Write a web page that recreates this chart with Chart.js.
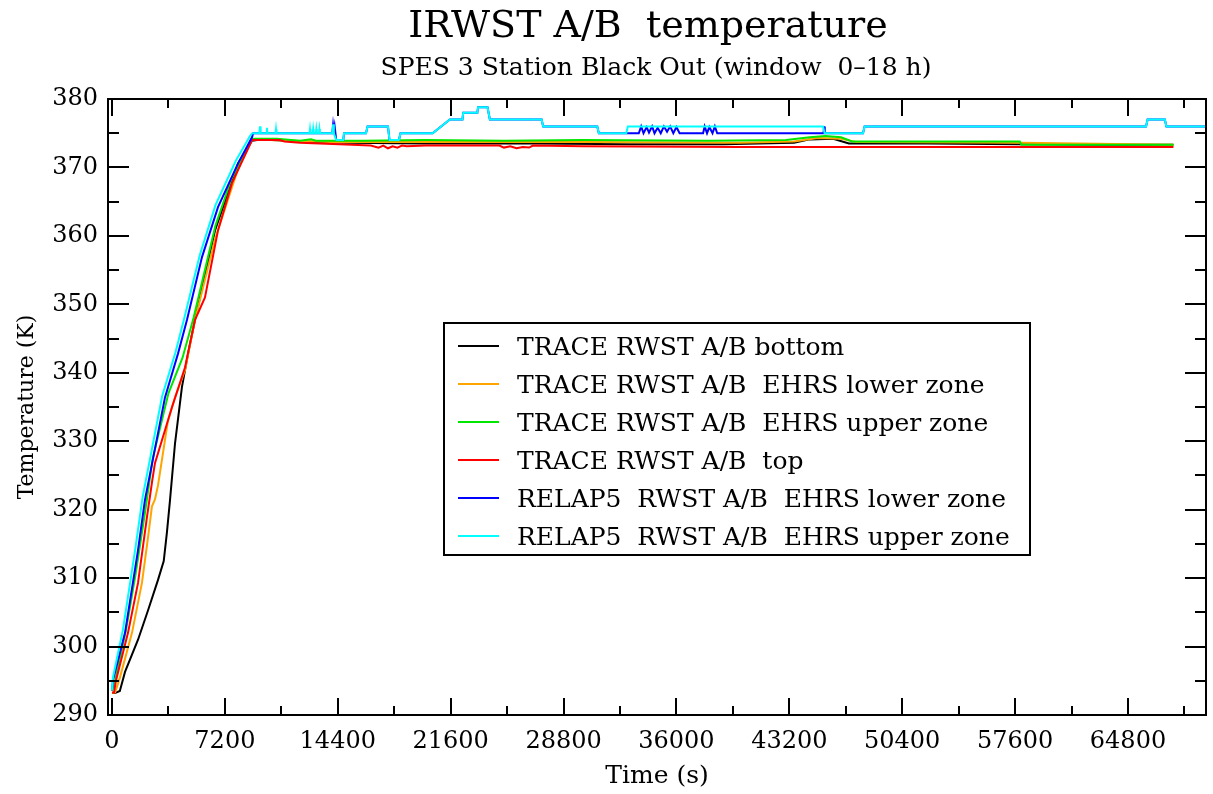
<!DOCTYPE html>
<html>
<head>
<meta charset="utf-8">
<title>IRWST A/B temperature</title>
<script src="https://cdn.jsdelivr.net/npm/chart.js@4.4.1/dist/chart.umd.min.js"></script>
<style>
  html, body { margin: 0; padding: 0; background: #fff; }
  #wrap { width: 1213px; height: 794px; position: relative; }
</style>
</head>
<body>
<div id="wrap"><canvas id="chart"></canvas></div>
<script>
// axis ticks
const xTicks = [0, 7200, 14400, 21600, 28800, 36000, 43200, 50400, 57600, 64800];
const xMinor = [3600, 10800, 18000, 25200, 32400, 39600, 46800, 54000, 61200, 68400];
const yTicks = [290, 300, 310, 320, 330, 340, 350, 360, 370, 380];
const yMinor = [295, 305, 315, 325, 335, 345, 355, 365, 375];

const labels = [
  'TRACE RWST A/B bottom',
  'TRACE RWST A/B  EHRS lower zone',
  'TRACE RWST A/B  EHRS upper zone',
  'TRACE RWST A/B  top',
  'RELAP5  RWST A/B  EHRS lower zone',
  'RELAP5  RWST A/B  EHRS upper zone'
];
const colors = ['#000000', '#ffa500', '#00e600', '#ff0000', '#0000ff', '#00ffff'];

// TRACE bottom
const bottomTime = [0, 190, 500, 830, 1660, 2300, 2930, 3300, 3500, 3700, 4020, 4460,
  4850, 5290, 6570, 8040, 8930, 9600, 12000, 15000, 20000, 27000, 33000, 39000,
  43500, 44500, 46000, 47000, 52000, 58000, 63000, 67700];
const bottomTemp = [293.2, 293.2, 293.5, 296.3, 301.0, 305.3, 309.7, 312.5, 316.6, 321.4, 329.7, 337.9,
  342.8, 347.7, 360.8, 370.6, 373.9, 374.1, 373.8, 373.6, 373.5, 373.5, 373.4, 373.4,
  373.6, 374.1, 374.2, 373.5, 373.5, 373.4, 373.3, 373.3];

// TRACE EHRS lower zone
const lowerTime = [0, 200, 510, 1275, 1910, 2300, 2550, 2740, 2930, 3570, 4020, 4660,
  5290, 6570, 8040, 8930, 10000, 14000, 20000, 30000, 40000, 43500, 45000, 46500,
  47500, 58000, 67700];
const lowerTemp = [293.2, 293.3, 295.5, 302.0, 309.3, 316.0, 320.5, 321.5, 323.5, 333.0, 336.4, 340.4,
  347.7, 359.5, 369.8, 374.0, 374.0, 373.7, 373.7, 373.7, 373.6, 373.8, 374.3, 374.2,
  373.7, 373.6, 373.3];

// TRACE EHRS upper zone
const upperTime = [0, 150, 900, 1500, 2100, 2600, 3600, 4500, 5200, 6600, 7600, 8900,
  10500, 12000, 12700, 13000, 16000, 20000, 25000, 30000, 38000, 43000, 44500, 45500,
  46500, 47200, 57900, 58000, 67700];
const upperTemp = [293.5, 294.5, 302.5, 310.5, 319.5, 327.5, 337.0, 342.2, 348.0, 361.5, 368.2, 374.2,
  374.2, 373.9, 374.1, 373.9, 373.9, 374.0, 373.9, 374.0, 373.9, 374.0, 374.4, 374.6,
  374.4, 373.8, 373.8, 373.3, 373.3];

// TRACE top
const topTime = [0, 130, 250, 1020, 1660, 2230, 2550, 2740, 3830, 4660,
  5290, 5930, 6760, 7650, 8930, 10700, 11000, 12000, 14500, 16500,
  17000, 17300, 17600, 17900, 18200, 18500, 18800, 20000, 24700, 25000,
  25400, 25800, 26200, 26600, 26850, 30000, 40000, 50000, 60000, 67700];
const topTemp = [293.3, 293.3, 295.0, 302.0, 309.3, 318.9, 324.0, 326.8, 335.0, 340.8,
  347.7, 351.0, 360.8, 367.7, 374.0, 374.0, 373.8, 373.6, 373.4, 373.2,
  372.9, 373.2, 372.8, 373.1, 372.9, 373.2, 373.1, 373.2, 373.2, 372.9,
  373.1, 372.8, 373.0, 372.9, 373.2, 373.1, 373.0, 373.0, 373.0, 373.0];

// RELAP5 EHRS lower zone
const relapLowTime = [
  0, 64, 830, 1660, 2100, 3380, 4210, 4780, 5740, 6760, 8040, 8930, 9000,
  14050, 14100, 14150, 14200, 14250, 14300, 14750, 14800, 16200, 16300, 17600, 17700, 18300, 18400,
  20450, 21550, 22350, 22400, 23300, 23350, 23950, 24100, 27400, 27500, 30950, 31050,
  33600, 33750, 33900, 34100, 34250, 34450, 34600, 34800, 35000, 35200, 35400, 35600, 35800, 36000, 36200,
  37700, 37800, 37950, 38100, 38300, 38450, 38600,
  45380, 45420, 45460, 47900, 48000, 65950, 66050, 67150, 67250, 69775];
const relapLowTemp = [
  293.6, 295.1, 302.0, 314.1, 321.4, 336.4, 342.8, 347.7, 356.9, 364.2, 370.6, 374.4, 375.0,
  375.0, 376.2, 375.2, 376.0, 375.0, 374.0, 374.0, 375.0, 375.0, 376.0, 376.0, 374.0, 374.0, 375.0,
  375.0, 377.0, 377.0, 378.0, 378.0, 378.8, 378.8, 377.0, 377.0, 376.0, 376.0, 375.0,
  375.0, 376.0, 375.0, 375.9, 375.1, 376.0, 375.0, 375.8, 375.0, 376.0, 375.2, 376.0, 375.0, 375.9, 375.0,
  375.0, 376.0, 375.0, 375.9, 375.0, 376.0, 375.0,
  375.0, 376.0, 375.0, 375.0, 376.0, 376.0, 377.0, 377.0, 376.0, 376.0];

// RELAP5 EHRS upper zone
const relapUpTime = [
  0, 60, 700, 1500, 1950, 3200, 4050, 4600, 5600, 6600, 7900, 8800, 8950,
  9400, 9440, 9480, 9850, 9880, 9910, 10430, 10460, 10490,
  12600, 12630, 12660, 12800, 12830, 12860, 13000, 13030, 13060, 13200, 13230, 13260,
  14050, 14100, 14150, 14300, 14750, 14800, 16200, 16300, 17600, 17700, 18300, 18400,
  20450, 21550, 22350, 22400, 23300, 23350, 23950, 24100, 27400, 27500, 30950, 31050, 32800, 32900,
  45350, 45450, 47900, 48000, 65950, 66050, 67150, 67250, 69775];
const relapUpTemp = [
  293.6, 295.5, 302.5, 314.5, 321.8, 336.6, 343.0, 347.9, 357.2, 364.5, 371.0, 374.6, 375.0,
  375.0, 376.0, 375.0, 375.0, 375.8, 375.0, 375.0, 375.6, 375.0,
  375.0, 375.6, 375.0, 375.0, 375.6, 375.0, 375.0, 375.6, 375.0, 375.0, 375.6, 375.0,
  375.0, 376.3, 375.0, 374.0, 374.0, 375.0, 375.0, 376.0, 376.0, 374.0, 374.0, 375.0,
  375.0, 377.0, 377.0, 378.0, 378.0, 378.8, 378.8, 377.0, 377.0, 376.0, 376.0, 375.0, 375.0, 376.0,
  376.0, 375.0, 375.0, 376.0, 376.0, 377.0, 377.0, 376.0, 376.0];

const seriesTime = [bottomTime, lowerTime, upperTime, topTime, relapLowTime, relapUpTime];
const seriesTemp = [bottomTemp, lowerTemp, upperTemp, topTemp, relapLowTemp, relapUpTemp];

const FONT = '"DejaVu Serif", "Liberation Serif", serif';

function points(ts, vs) {
  return ts.map((t, i) => ({ x: t, y: vs[i] }));
}

let datasets = [];
for (let i = 0; i < labels.length; ++i) {
  datasets.push({
    label: labels[i],
    data: points(seriesTime[i], seriesTemp[i]),
    borderColor: colors[i],
    backgroundColor: colors[i],
    borderWidth: 2,
    pointRadius: 0,
    tension: 0,
    fill: false,
    order: labels.length - i   // later series drawn on top
  });
}

// titles above the frame
const titlePlugin = {
  id: 'titles',
  afterDraw(chart) {
    const ctx = chart.ctx;
    ctx.save();
    ctx.fillStyle = '#000';
    ctx.textAlign = 'center';
    ctx.textBaseline = 'alphabetic';
    ctx.font = '38px ' + FONT;
    ctx.fillText('IRWST A/B  temperature', 648, 37);
    ctx.font = '25px ' + FONT;
    ctx.fillText('SPES 3 Station Black Out (window  0\u201318 h)', 656, 75);
    ctx.restore();
  }
};

// box frame with inward ticks on all four sides
const framePlugin = {
  id: 'frame',
  afterDatasetsDraw(chart) {
    const ctx = chart.ctx;
    const a = chart.chartArea;
    const xs = chart.scales.x, ys = chart.scales.y;
    ctx.save();
    ctx.strokeStyle = '#000';
    ctx.lineWidth = 2;
    ctx.strokeRect(a.left, a.top, a.right - a.left, a.bottom - a.top);
    ctx.beginPath();
    const xt = (v, len) => {
      const p = Math.round(xs.getPixelForValue(v));
      ctx.moveTo(p, a.bottom); ctx.lineTo(p, a.bottom - len);
      ctx.moveTo(p, a.top); ctx.lineTo(p, a.top + len);
    };
    const yt = (v, len) => {
      const p = Math.round(ys.getPixelForValue(v));
      ctx.moveTo(a.left, p); ctx.lineTo(a.left + len, p);
      ctx.moveTo(a.right, p); ctx.lineTo(a.right - len, p);
    };
    xTicks.forEach(v => xt(v, 17));
    xMinor.forEach(v => xt(v, 9));
    yTicks.forEach(v => yt(v, 21));
    yMinor.forEach(v => yt(v, 11));
    ctx.stroke();
    ctx.restore();
  }
};

// legend box inside the plot
const legendPlugin = {
  id: 'boxLegend',
  afterDraw(chart) {
    const ctx = chart.ctx;
    const bx = 444, by = 323, bw = 586, bh = 232;
    ctx.save();
    ctx.fillStyle = '#fff';
    ctx.fillRect(bx, by, bw, bh);
    ctx.strokeStyle = '#000';
    ctx.lineWidth = 2;
    ctx.strokeRect(bx, by, bw, bh);
    ctx.font = '25px ' + FONT;
    ctx.textBaseline = 'alphabetic';
    ctx.textAlign = 'left';
    chart.data.datasets.forEach((ds, i) => {
      const y = 346 + i * 38;
      ctx.strokeStyle = ds.borderColor;
      ctx.lineWidth = 2;
      ctx.beginPath();
      ctx.moveTo(458, y);
      ctx.lineTo(499, y);
      ctx.stroke();
      ctx.fillStyle = '#000';
      ctx.fillText(ds.label, 517, y + 9);
    });
    ctx.restore();
  }
};

new Chart(document.getElementById('chart'), {
  type: 'line',
  data: { datasets: datasets },
  options: {
    animation: false,
    responsive: true,
    maintainAspectRatio: false,
    devicePixelRatio: 1,
    layout: { padding: { top: 99, right: 7, left: 0, bottom: 0 } },
    plugins: {
      legend: { display: false },
      tooltip: { enabled: false },
      title: { display: false }
    },
    scales: {
      x: {
        type: 'linear',
        min: -255,
        max: 69775,
        afterBuildTicks: s => { s.ticks = xTicks.map(v => ({ value: v })); },
        afterFit: s => { s.height = 79; },
        grid: { display: false, drawTicks: false },
        border: { display: false },
        ticks: {
          color: '#000', font: { family: FONT, size: 24 }, padding: 12,
          maxRotation: 0, autoSkip: false, callback: v => String(v)
        },
        title: {
          display: true, text: 'Time (s)', color: '#000',
          font: { family: FONT, size: 25 }, padding: { top: 0, bottom: 3 }
        }
      },
      y: {
        type: 'linear',
        min: 290,
        max: 380,
        afterBuildTicks: s => { s.ticks = yTicks.map(v => ({ value: v })); },
        afterFit: s => { s.width = 108; },
        grid: { display: false, drawTicks: false },
        border: { display: false },
        ticks: {
          color: '#000', font: { family: FONT, size: 24 }, padding: 10,
          autoSkip: false, callback: v => String(v)
        },
        title: {
          display: true, text: 'Temperature (K)', color: '#000',
          font: { family: FONT, size: 22 }, padding: { top: 14, bottom: 0 }
        }
      }
    }
  },
  plugins: [framePlugin, legendPlugin, titlePlugin]
});
</script>
</body>
</html>
